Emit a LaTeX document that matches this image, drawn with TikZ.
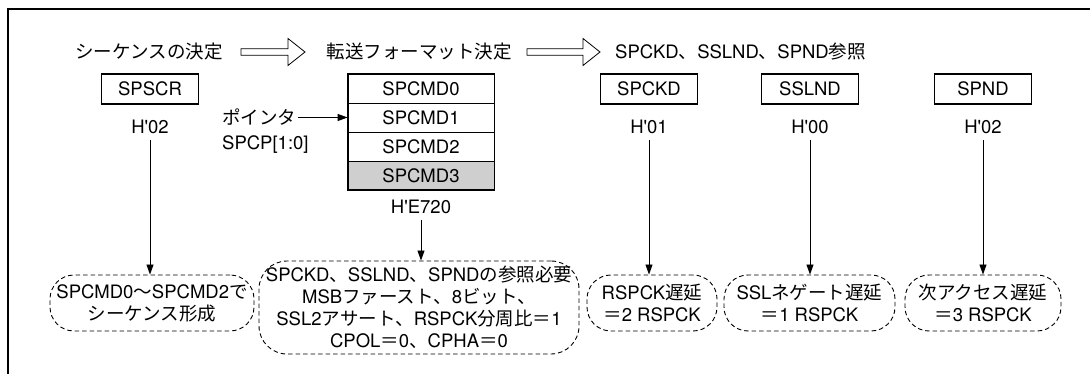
\documentclass[tikz,border=0pt]{standalone}
\usepackage{fontspec}
\setmainfont{TeX Gyre Heros}[Ligatures=TeXOff]
\newfontfamily\jpfont{Noto Sans CJK JP}
\newcommand\jp[1]{{\jpfont #1}}
\usetikzlibrary{arrows.meta}
\newcommand\openarr[3]{\draw[line width=0.8pt, line join=miter] (#1,#3-3.3) -- (#2-17,#3-3.3) -- (#2-17,#3-13.5) -- (#2,#3) -- (#2-17,#3+13.5) -- (#2-17,#3+3.3) -- (#1,#3+3.3) -- cycle;}
\begin{document}
\begin{tikzpicture}[x=1pt,y=-1pt,
  font=\fontsize{18.5}{22}\selectfont,
  reg/.style={draw, line width=1.8pt, minimum width=97pt, minimum height=30pt, inner sep=0pt},
  cell/.style={draw, line width=0.8pt, minimum width=146pt, minimum height=29pt, inner sep=0pt},
  note/.style={draw, dash pattern=on 4.5pt off 3pt, line width=0.9pt, rounded corners=24pt, align=center, inner sep=0pt},
  conn/.style={line width=0.9pt, -{Triangle[length=10pt,width=7pt]}},
  txt/.style={inner sep=2pt}]
\useasboundingbox (0,0) rectangle (1090,374);
% frame
\draw[line width=2.6pt, line join=miter] (1091,9) -- (8,9) -- (8,375);
% title row
\node[txt] (t1) at (149,52) {\jp{シーケンスの決定}};
\node[txt] (t2) at (419,52) {\jp{転送フォーマット決定}};
\node[txt, anchor=west] (t3) at (613,52) {SPCKD\jp{、}SSLND\jp{、}SPND\jp{参照}};
\openarr{241}{305}{52}
\openarr{527}{600}{52}
% registers
\node[reg] (spscr) at (150,89) {SPSCR};
\node[reg] (spckd) at (649,89) {SPCKD};
\node[reg] (sslnd) at (810,89) {SSLND};
\node[reg] (spnd) at (983,89) {SPND};
% command stack
\node[cell] (c0) at (421,88.5) {SPCMD0};
\node[cell] (c1) at (421,117.5) {SPCMD1};
\node[cell] (c2) at (421,146.5) {SPCMD2};
\node[cell, fill=black!19] (c3) at (421,175.5) {SPCMD3};
\draw[line width=1.8pt] (c0.north west) rectangle (c3.south east);
% pointer
\node[txt, anchor=west] (ptr) at (220,117.5) {\jp{ポインタ}};
\node[txt, anchor=west] (spcp) at (220,145) {SPCP[1:0]};
\draw[conn] (ptr.east) -- (c1.west);
% values
\node[txt] (v1) at (150,127) {H'02};
\node[txt] (v2) at (421,207) {H'E720};
\node[txt] (v3) at (649,127) {H'01};
\node[txt] (v4) at (810,127) {H'00};
\node[txt] (v5) at (983,127) {H'02};
% notes
\node[note, minimum width=204pt, minimum height=56pt] (b1) at (152,303) {SPCMD0\jp{～}SPCMD2\jp{で}\\\jp{シーケンス形成}};
\node[note, minimum width=320pt, minimum height=93pt, rounded corners=28pt] (b2) at (419,307.5) {SPCKD\jp{、}SSLND\jp{、}SPND\jp{の参照必要}\\MSB\jp{ファースト、}8\jp{ビット、}\\SSL2\jp{アサート、}RSPCK\jp{分周比＝}1\\CPOL\jp{＝}0\jp{、}CPHA\jp{＝}0};
\node[note, minimum width=130pt, minimum height=56pt] (b3) at (652,303) {RSPCK\jp{遅延}\\\jp{＝}2 RSPCK};
\node[note, minimum width=171pt, minimum height=56pt] (b4) at (809.5,303) {SSL\jp{ネゲート遅延}\\\jp{＝}1 RSPCK};
\node[note, minimum width=156pt, minimum height=56pt] (b5) at (983,303) {\jp{次アクセス遅延}\\\jp{＝}3 RSPCK};
% connectors
\draw[conn, shorten <=4pt] (v1.south) -- (v1.south |- b1.north);
\draw[conn, shorten <=4pt] (v2.south) -- (v2.south |- b2.north);
\draw[conn, shorten <=4pt] (v3.south) -- (v3.south |- b3.north);
\draw[conn, shorten <=4pt] (v4.south) -- (v4.south |- b4.north);
\draw[conn, shorten <=4pt] (v5.south) -- (v5.south |- b5.north);
\end{tikzpicture}
\end{document}
